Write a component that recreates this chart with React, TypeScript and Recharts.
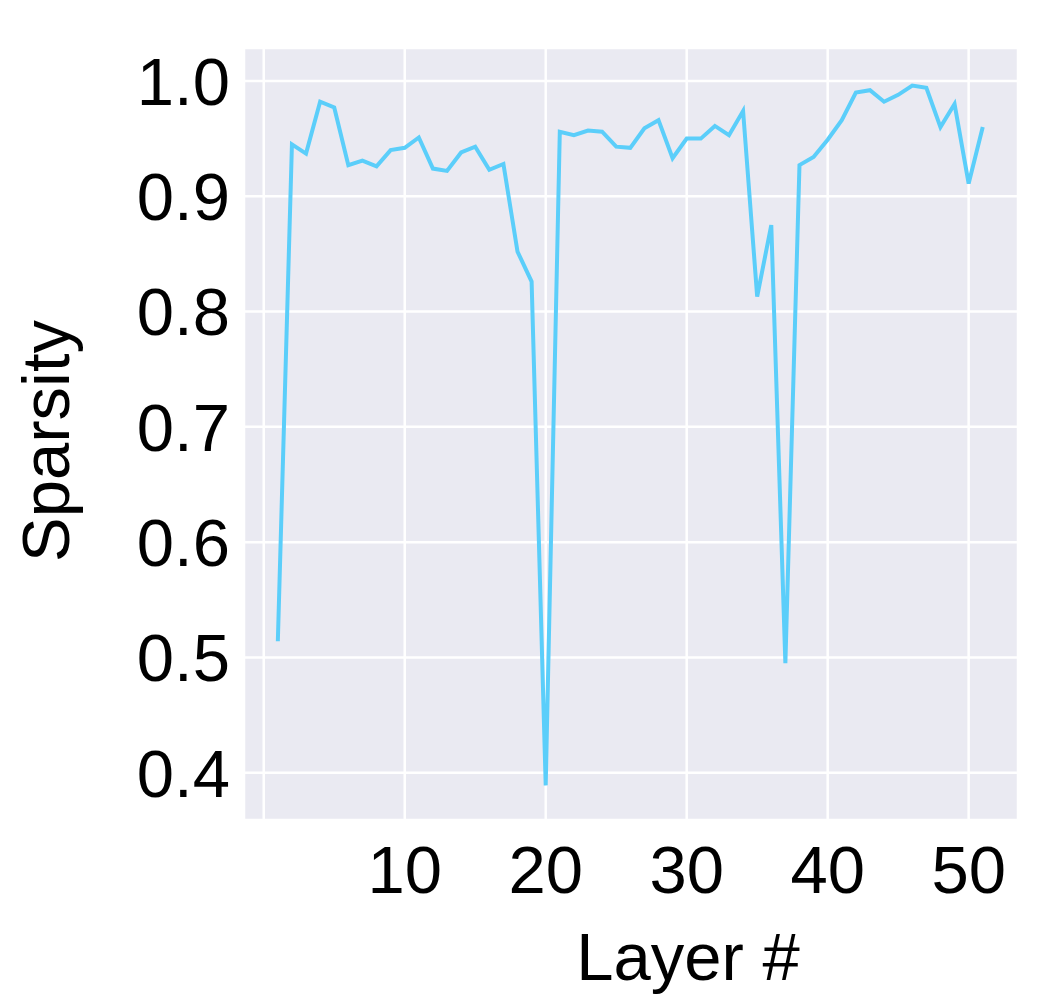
import { LineChart, Line, XAxis, YAxis, CartesianGrid } from "recharts";

const layers = [
  1, 2, 3, 4, 5, 6, 7, 8, 9, 10, 11, 12, 13, 14, 15, 16, 17, 18, 19, 20, 21, 22, 23, 24, 25, 26,
  27, 28, 29, 30, 31, 32, 33, 34, 35, 36, 37, 38, 39, 40, 41, 42, 43, 44, 45, 46, 47, 48, 49, 50, 51,
];

const sparsity = [
  0.514, 0.945, 0.937, 0.982, 0.977, 0.927, 0.931, 0.926, 0.94, 0.942, 0.951, 0.924, 0.922, 0.938,
  0.943, 0.923, 0.928, 0.852, 0.826, 0.389, 0.956, 0.953, 0.957, 0.956, 0.943, 0.942, 0.959, 0.966,
  0.933, 0.95, 0.95, 0.961, 0.953, 0.974, 0.813, 0.875, 0.495, 0.927, 0.934, 0.949, 0.966, 0.99,
  0.992, 0.982, 0.988, 0.996, 0.994, 0.96, 0.98, 0.911, 0.96,
];

const xTicks = [0, 10, 20, 30, 40, 50];
const yTicks = [0.4, 0.5, 0.6, 0.7, 0.8, 0.9, 1.0];

const data = layers.map((l, i) => ({ layer: l, sparsity: sparsity[i] }));

const FONT = "'Liberation Sans', Arial, Helvetica, sans-serif";
const FS = 67;

// axis titles placed by hand so they line up with the original figure
function XTitle(props: any) {
  const vb = props.viewBox ?? { x: 0, y: 0, width: 0, height: 0 };
  return (
    <text x={vb.x + vb.width / 2 + 57} y={980} textAnchor="middle" fontSize={FS} fontFamily={FONT} fill="#000">
      Layer #
    </text>
  );
}

function YTitle(props: any) {
  const vb = props.viewBox ?? { x: 0, y: 0, width: 0, height: 0 };
  const cx = 69;
  const cy = vb.y + vb.height / 2 + 7;
  return (
    <text
      x={cx}
      y={cy}
      textAnchor="middle"
      transform={`rotate(-90, ${cx}, ${cy})`}
      fontSize={FS}
      fontFamily={FONT}
      fill="#000"
    >
      Sparsity
    </text>
  );
}

export default function App() {
  return (
    <div style={{ position: "absolute", left: 0, top: 0, background: "#fff" }}>
      <LineChart
        width={1060}
        height={1004}
        data={data}
        margin={{ top: 48, right: 42, bottom: 54, left: 44 }}
      >
        <CartesianGrid fill="#EAEAF2" stroke="#ffffff" strokeWidth={2.5} />
        <XAxis
          dataKey="layer"
          type="number"
          domain={[-1.4, 53.5]}
          ticks={xTicks}
          tickFormatter={(v: number) => (v === 0 ? "" : String(v))}
          axisLine={false}
          tickLine={false}
          tickSize={0}
          tickMargin={25}
          height={130}
          tick={{ fontSize: FS, fontFamily: FONT, fill: "#000" }}
          label={<XTitle />}
          allowDataOverflow
        />
        <YAxis
          type="number"
          domain={[0.359, 1.0286]}
          ticks={yTicks}
          tickFormatter={(v: number) => v.toFixed(1)}
          axisLine={false}
          tickLine={false}
          tickSize={0}
          tickMargin={14}
          width={200}
          tick={{ fontSize: FS, fontFamily: FONT, fill: "#000" }}
          label={<YTitle />}
          allowDataOverflow
        />
        <Line
          type="linear"
          dataKey="sparsity"
          stroke="#5BCEFA"
          strokeWidth={4}
          dot={false}
          isAnimationActive={false}
        />
      </LineChart>
    </div>
  );
}
